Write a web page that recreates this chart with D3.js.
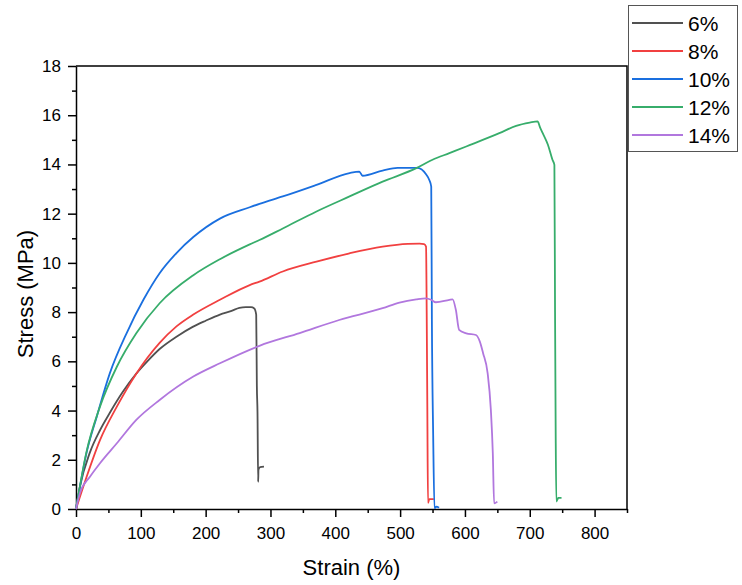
<!DOCTYPE html>
<html>
<head>
<meta charset="utf-8">
<script src="https://cdn.jsdelivr.net/npm/d3@7"></script>
<style>
    body { margin: 0; background: #fff; }
    svg { display: block; font-family: "Liberation Sans", Arial, sans-serif; }
    .axis path, .axis line { stroke: #000; stroke-width: 1.5px; }
    .axis text { font-size: 17px; fill: #000; }
</style>
</head>
<body>
<script>
/////////// DATA //////////
const seriesNames = ["6%", "8%", "10%", "12%", "14%"];

const strain6 = [0, 6, 21.5, 37, 52, 72, 93, 110, 129, 155, 180, 200, 222, 240, 252, 262, 270, 275, 278, 279, 280, 281, 281.5, 284, 290];
const stress6 = [0, 0.9, 2.3, 3.2, 3.9, 4.75, 5.5, 6.0, 6.5, 7.0, 7.4, 7.65, 7.9, 8.05, 8.17, 8.2, 8.2, 8.15, 7.9, 5.0, 3.9, 1.1, 1.6, 1.7, 1.72];

const strain8 = [0, 16.4, 37, 63, 93, 129, 155, 181, 222, 268, 283, 319, 371, 422, 473, 512, 530, 537, 540, 541, 542, 543, 545, 552];
const stress8 = [0, 1.31, 2.8, 4.16, 5.5, 6.75, 7.42, 7.9, 8.5, 9.1, 9.24, 9.65, 10.05, 10.39, 10.66, 10.77, 10.78, 10.76, 10.66, 8.0, 4.0, 0.25, 0.4, 0.4];

const strain10 = [0, 16.4, 32, 52, 78, 104, 129, 155, 181, 222, 268, 283, 319, 371, 422, 437, 442, 473, 496, 527, 540, 545, 548, 549, 551, 553, 556, 560];
const stress10 = [0, 2.3, 3.75, 5.5, 7.14, 8.5, 9.58, 10.4, 11.05, 11.8, 12.26, 12.4, 12.7, 13.17, 13.65, 13.71, 13.54, 13.75, 13.86, 13.86, 13.6, 13.37, 13.1, 7.7, 3.0, 0.03, 0.1, 0.05];

const strain12 = [0, 16, 37, 63, 93, 129, 181, 222, 268, 283, 319, 371, 422, 473, 525, 550, 576, 602, 653, 679, 700, 712, 716, 720, 728, 735, 738, 739, 740, 741, 744, 749];
const stress12 = [0, 2.3, 4.16, 5.78, 7.14, 8.36, 9.5, 10.15, 10.75, 10.93, 11.4, 12.09, 12.7, 13.3, 13.85, 14.19, 14.46, 14.73, 15.27, 15.57, 15.7, 15.75, 15.5, 15.27, 14.8, 14.19, 13.98, 8.0, 3.0, 0.3, 0.45, 0.45];

const strain14 = [0, 6, 21.5, 37, 63, 93, 129, 181, 222, 283, 345, 406, 473, 499, 525, 540, 548, 555, 576, 581, 586, 591, 602, 617, 623, 628, 635, 640, 643, 645, 650];
const stress14 = [0, 0.64, 1.31, 1.86, 2.67, 3.62, 4.43, 5.38, 5.92, 6.63, 7.15, 7.68, 8.16, 8.39, 8.52, 8.56, 8.5, 8.4, 8.5, 8.52, 8.09, 7.28, 7.14, 7.07, 6.8, 6.33, 5.52, 4.02, 2.26, 0.23, 0.3];

const xMajorTicks = [0, 100, 200, 300, 400, 500, 600, 700, 800];
const xMinorTicks = [50, 150, 250, 350, 450, 550, 650, 750, 850];
const yMajorTicks = [0, 2, 4, 6, 8, 10, 12, 14, 16, 18];
const yMinorTicks = [1, 3, 5, 7, 9, 11, 13, 15, 17];

(function(){

    /////////// CONFIGURATION //////////
    const width = 742;
    const height = 585;
    const margin = {top: 66, right: 115, bottom: 76, left: 76};
    const colors = ["#515151", "#F14040", "#1A6FDF", "#37AD6B", "#B177DE"]; // Origin default palette

    const strains = [strain6, strain8, strain10, strain12, strain14];
    const stresses = [stress6, stress8, stress10, stress12, stress14];

    function setChart() {
        const svg = d3.select("body").append("svg")
            .attr("width", width)
            .attr("height", height);

        const x = d3.scaleLinear().domain([0, 850]).range([margin.left, width - margin.right]);
        const y = d3.scaleLinear().domain([0, 18]).range([height - margin.bottom, margin.top]);

        drawAxes(svg, x, y);
        drawCurves(svg, x, y);
        drawLegend(svg);
    }

    function drawAxes(svg, x, y) {
        const y0 = y(0), x0 = x(0);

        // minor ticks first, no labels
        svg.append("g").attr("class", "axis")
            .attr("transform", `translate(0,${y0})`)
            .call(d3.axisBottom(x).tickValues(xMinorTicks).tickSize(4).tickFormat(""))
            .select(".domain").remove();
        svg.append("g").attr("class", "axis")
            .attr("transform", `translate(${x0},0)`)
            .call(d3.axisLeft(y).tickValues(yMinorTicks).tickSize(4).tickFormat(""))
            .select(".domain").remove();

        // major ticks with labels
        svg.append("g").attr("class", "axis")
            .attr("transform", `translate(0,${y0})`)
            .call(d3.axisBottom(x).tickValues(xMajorTicks).tickSize(8).tickPadding(10).tickSizeOuter(0));
        svg.append("g").attr("class", "axis")
            .attr("transform", `translate(${x0},0)`)
            .call(d3.axisLeft(y).tickValues(yMajorTicks).tickSize(8).tickPadding(7).tickSizeOuter(0));

        // top and right frame
        svg.append("path")
            .attr("d", `M${x(0)},${y(18)}H${x(850)}V${y(0)}`)
            .attr("fill", "none")
            .attr("stroke", "#000")
            .attr("stroke-width", 1.5);

        // axis titles
        svg.append("text")
            .attr("x", (x(0) + x(850)) / 2)
            .attr("y", 575)
            .attr("text-anchor", "middle")
            .style("font-size", "22px")
            .text("Strain (%)");

        svg.append("text")
            .attr("transform", `translate(33,294) rotate(-90)`)
            .attr("text-anchor", "middle")
            .style("font-size", "22px")
            .text("Stress (MPa)");
    }

    function drawCurves(svg, x, y) {
        const line = d3.line()
            .curve(d3.curveMonotoneX) // smooth, but keeps the sharp drops
            .x(d => x(d[0]))
            .y(d => y(d[1]));

        strains.forEach((s, i) => {
            const pts = s.map((v, j) => [v, stresses[i][j]]);
            svg.append("path")
                .datum(pts)
                .attr("d", line)
                .attr("fill", "none")
                .attr("stroke", colors[i])
                .attr("stroke-width", 1.8)
                .attr("stroke-linejoin", "round");
        });
    }

    function drawLegend(svg) {
        const lg = svg.append("g");
        lg.append("rect")
            .attr("x", 628.5).attr("y", 5.5)
            .attr("width", 109).attr("height", 146)
            .attr("fill", "#fff")
            .attr("stroke", "#555")
            .attr("stroke-width", 1);

        seriesNames.forEach((name, i) => {
            const cy = 23 + i * 28;
            lg.append("line")
                .attr("x1", 632).attr("x2", 683)
                .attr("y1", cy).attr("y2", cy)
                .attr("stroke", colors[i])
                .attr("stroke-width", 2);
            lg.append("text")
                .attr("x", 688).attr("y", cy)
                .attr("dy", "0.36em")
                .style("font-size", "21px")
                .text(name);
        });
    }

    window.onload = setChart;
})();
</script>
</body>
</html>
